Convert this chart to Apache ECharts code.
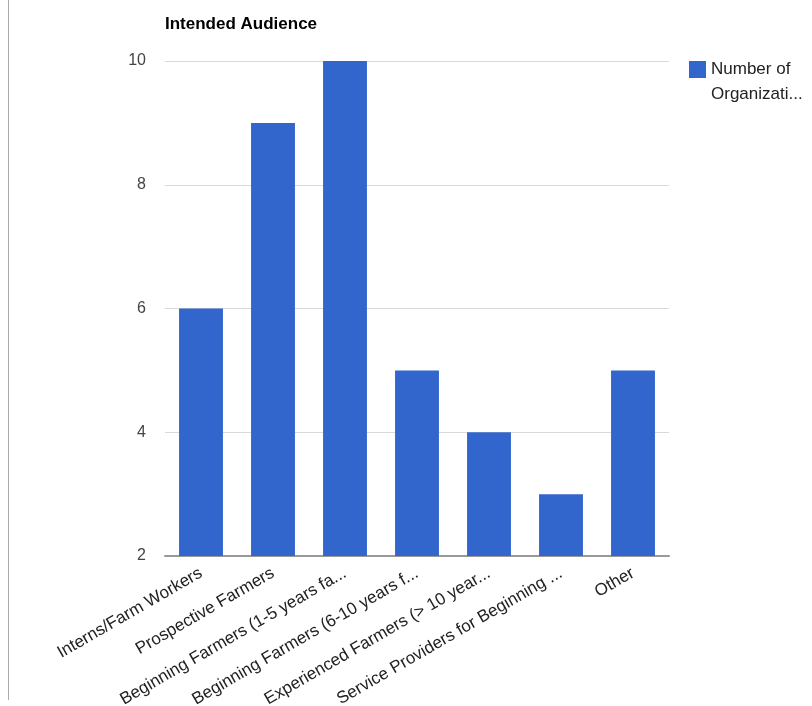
<!DOCTYPE html>
<html>
<head>
<meta charset="utf-8">
<script src="https://cdn.jsdelivr.net/npm/echarts@6/dist/echarts.min.js"></script>
<style>
  html, body { margin: 0; padding: 0; background: #fff; }
  #chart { width: 812px; height: 706px; }
</style>
</head>
<body>
<div id="chart"></div>
<script>
// Audience categories (labels shown truncated on the axis)
const categories = [
  'Interns/Farm Workers',
  'Prospective Farmers',
  'Beginning Farmers (1-5 years fa...',
  'Beginning Farmers (6-10 years f...',
  'Experienced Farmers (> 10 year...',
  'Service Providers for Beginning ...',
  'Other'
];
const organizationCounts = [6, 9, 10, 5, 4, 3, 5];
const yTicks = { min: 2, max: 10, interval: 2 };
const seriesName = 'Number of Organizati...';

const chart = echarts.init(document.getElementById('chart'), null, { renderer: 'canvas' });

chart.setOption({
  animation: false,
  backgroundColor: '#ffffff',
  textStyle: { fontFamily: 'Liberation Sans, Arial, sans-serif' },
  title: {
    text: 'Intended Audience',
    left: 165,
    top: 16,
    padding: 0,
    textStyle: { fontSize: 17, fontWeight: 'bold', color: '#000' }
  },
  legend: {
    data: [seriesName],
    orient: 'vertical',
    left: 689,
    top: 32,
    padding: 0,
    icon: 'rect',
    itemWidth: 17,
    itemHeight: 17,
    // leading blank line keeps the first text line level with the swatch
    formatter: () => '\nNumber of\nOrganizati...',
    textStyle: { fontSize: 17, color: '#222', lineHeight: 25 }
  },
  grid: {
    left: 165, right: 143, top: 61, bottom: 150,
    containLabel: false,
    outerBoundsMode: 'none'
  },
  xAxis: {
    type: 'category',
    data: categories,
    axisTick: { show: false },
    axisLine: { lineStyle: { color: '#999', width: 2 } },
    axisLabel: {
      rotate: 30,
      interval: 0,
      margin: 16,
      fontSize: 17,
      color: '#222'
    }
  },
  yAxis: {
    type: 'value',
    min: yTicks.min,
    max: yTicks.max,
    interval: yTicks.interval,
    axisLine: { show: false },
    axisTick: { show: false },
    axisLabel: { fontSize: 16, color: '#444', margin: 19 },
    splitLine: { lineStyle: { color: '#d9d9d9', width: 1 } }
  },
  series: [{
    name: seriesName,
    type: 'bar',
    data: organizationCounts,
    barWidth: '61%',
    itemStyle: { color: '#3366cc' }
  }],
  graphic: [{
    type: 'line',
    shape: { x1: 8.5, y1: 0, x2: 8.5, y2: 700 },
    style: { stroke: '#aaa', lineWidth: 1 }
  }]
});
</script>
</body>
</html>
